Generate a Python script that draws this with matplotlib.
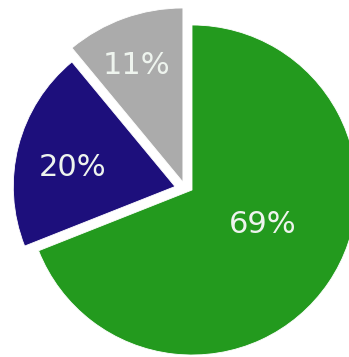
import numpy as np
import matplotlib
matplotlib.use("Agg")
import matplotlib.pyplot as plt

labels = ["69%", "20%", "11%"]
values = [69, 20, 11]
colors = ["#239a1e", "#1d0f7c", "#ababab"]

# layout: per-wedge offset of the vertex (pie units) and radius scale
offsets = [(0.0, 0.0), (-0.103, 0.021), (-0.055, 0.048)]
radii = [1.0, 0.98, 1.055]
# label placement (radius from wedge vertex, angle offset from mid-angle in degrees)
label_r = [0.48, 0.63, 0.76]
label_dang = [8.0, 4.0, 1.7]

W, H = 349, 357
fig = plt.figure(figsize=(W / 100, H / 100), dpi=100)
ax = fig.add_axes([0, 0, 1, 1])
ax.set_axis_off()

wedges, _ = ax.pie(values, colors=colors, startangle=90,
                   counterclock=False, radius=1.0,
                   wedgeprops=dict(edgecolor="white", linewidth=0.6))

for w, off, rr, lab, r, da in zip(wedges, offsets, radii, labels, label_r, label_dang):
    w.set_center(off)
    w.set_radius(rr)
    mid = np.deg2rad((w.theta1 + w.theta2) / 2 + da)
    cx, cy = off
    ax.text(cx + r * np.cos(mid), cy + r * np.sin(mid), lab,
            ha="center", va="center", color="#eef4ee", fontsize=22,
            family="DejaVu Sans")

# map: pie centre at pixel (192,190), radius 165 px
ppu = 165.0
cxp, cyp = 192.0, 190.0
ax.set_xlim(-cxp / ppu, (W - cxp) / ppu)
ax.set_ylim(-(H - cyp) / ppu, cyp / ppu)
ax.set_aspect("auto")

fig.savefig("out.png", dpi=100, facecolor="white")
